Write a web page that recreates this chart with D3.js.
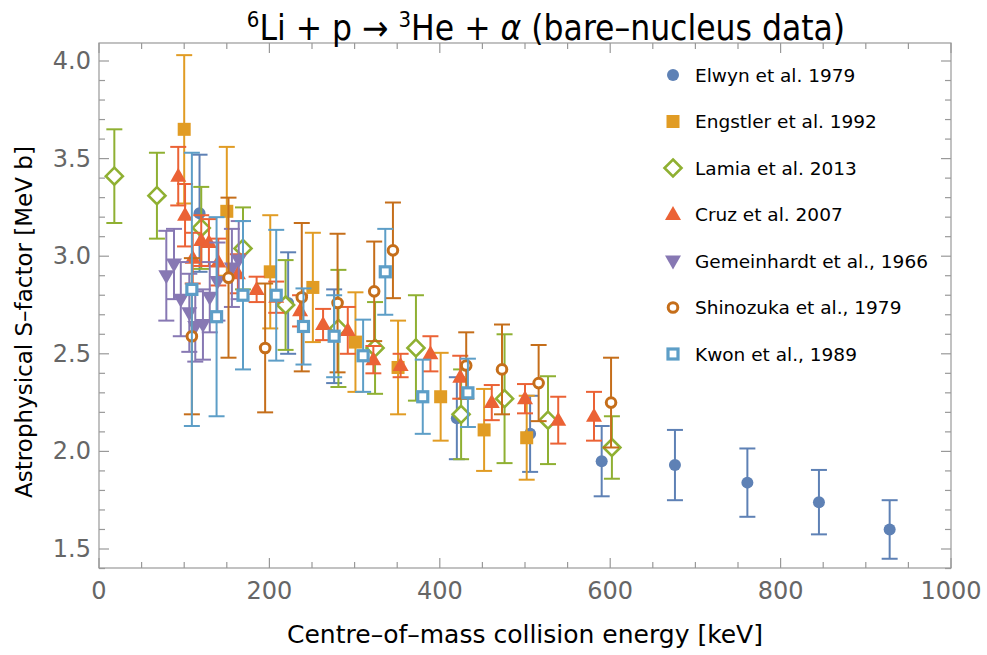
<!DOCTYPE html>
<html lang="en">
<head>
<meta charset="UTF-8">
<title>6Li + p -> 3He + alpha</title>
<script src="https://d3js.org/d3.v7.min.js"></script>
<style>
    body { margin: 0; background: #fff; }
    svg { display: block; font-family: "DejaVu Sans", sans-serif; }
    .tick-label { fill: #666; font-size: 24px; }
    .frame { fill: none; stroke: #999; stroke-width: 1.2px; }
    .tick { stroke: #999; stroke-width: 1.2px; }
</style>
</head>
<body>
<svg id="chart" width="987" height="655"></svg>
<script>
    // data: energy [keV], S-factor [MeV b], error
    const elwynE = [118, 222, 276, 420, 506, 590, 676, 761, 845, 928];
    const elwynS = [3.22, 2.76, 2.59, 2.17, 2.09, 1.95, 1.93, 1.84, 1.74, 1.60];
    const elwynErr = [0.30, 0.26, 0.24, 0.21, 0.195, 0.18, 0.18, 0.175, 0.165, 0.15];

    const engstlerE = [100, 150, 201, 251, 301, 351, 401, 452, 502];
    const engstlerS = [3.65, 3.23, 2.92, 2.84, 2.56, 2.43, 2.28, 2.11, 2.07];
    const engstlerErr = [0.38, 0.33, 0.29, 0.28, 0.255, 0.24, 0.225, 0.21, 0.215];

    const lamiaE = [18, 68, 120, 169, 219, 281, 324, 372, 425, 476, 527, 602];
    const lamiaS = [3.41, 3.31, 3.145, 3.04, 2.75, 2.63, 2.53, 2.53, 2.19, 2.27, 2.16, 2.02];
    const lamiaErr = [0.24, 0.22, 0.21, 0.21, 0.23, 0.30, 0.235, 0.27, 0.23, 0.33, 0.225, 0.16];

    const cruzE = [93, 101, 110, 120, 129, 140, 163, 185, 208, 236, 263, 292, 322, 354, 389, 424, 461, 500, 539, 581];
    const cruzS = [3.41, 3.21, 2.99, 3.08, 3.07, 2.97, 2.91, 2.83, 2.79, 2.72, 2.65, 2.62, 2.47, 2.44, 2.50, 2.38, 2.25, 2.27, 2.16, 2.18];
    const cruzErr = [0.15, 0.16, 0.13, 0.13, 0.12, 0.12, 0.10, 0.065, 0.08, 0.08, 0.08, 0.12, 0.07, 0.06, 0.09, 0.11, 0.09, 0.075, 0.12, 0.125];

    const gemE = [79, 88, 96, 106, 113, 122, 130, 139, 156, 164];
    const gemS = [2.90, 2.96, 2.78, 2.71, 2.64, 2.65, 2.79, 2.87, 2.94, 2.98];
    const gemErr = [0.23, 0.18, 0.19, 0.20, 0.18, 0.18, 0.18, 0.20, 0.20, 0.20];

    const shinE = [109, 152, 195, 238, 280, 323, 345, 431, 473, 516, 601];
    const shinS = [2.59, 2.89, 2.53, 2.79, 2.76, 2.82, 3.03, 2.44, 2.42, 2.35, 2.25];
    const shinErr = [0.40, 0.41, 0.33, 0.38, 0.355, 0.255, 0.245, 0.17, 0.23, 0.195, 0.23];

    const kwonE = [109, 138, 169, 208, 240, 276, 310, 336, 380, 433];
    const kwonS = [2.83, 2.69, 2.80, 2.80, 2.64, 2.59, 2.49, 2.92, 2.28, 2.30];
    const kwonErr = [0.70, 0.51, 0.38, 0.335, 0.195, 0.21, 0.185, 0.22, 0.19, 0.175];

    const xTicks = [0, 200, 400, 600, 800, 1000];
    const yTicks = [1.5, 2.0, 2.5, 3.0, 3.5, 4.0];

    const series = [
        {name: "Elwyn et al. 1979", e: elwynE, s: elwynS, err: elwynErr, color: "#5E81B5", shape: "circle"},
        {name: "Engstler et al. 1992", e: engstlerE, s: engstlerS, err: engstlerErr, color: "#E19C24", shape: "square"},
        {name: "Lamia et al. 2013", e: lamiaE, s: lamiaS, err: lamiaErr, color: "#8FB032", shape: "diamond"},
        {name: "Cruz et al. 2007", e: cruzE, s: cruzS, err: cruzErr, color: "#EB6235", shape: "up"},
        {name: "Gemeinhardt et al., 1966", e: gemE, s: gemS, err: gemErr, color: "#8778B3", shape: "down"},
        {name: "Shinozuka et al., 1979", e: shinE, s: shinS, err: shinErr, color: "#C56E1A", shape: "ring"},
        {name: "Kwon et al., 1989", e: kwonE, s: kwonS, err: kwonErr, color: "#5D9EC7", shape: "opensquare"}
    ];

    const svg = d3.select("#chart");
    const plotLeft = 99, plotRight = 951, plotTop = 43, plotBottom = 568;

    const x = d3.scaleLinear().domain([0, 1000]).range([plotLeft, plotRight]);
    const y = d3.scaleLinear().domain([1.5, 4.0]).range([549, 61]);

    // frame
    svg.append("rect").attr("class", "frame")
        .attr("x", plotLeft).attr("y", plotTop)
        .attr("width", plotRight - plotLeft).attr("height", plotBottom - plotTop);

    // ticks on all four sides
    d3.range(0, 1001, 50).forEach(v => {
        const len = v % 200 === 0 ? 10 : 6;
        svg.append("line").attr("class", "tick")
            .attr("x1", x(v)).attr("x2", x(v)).attr("y1", plotBottom).attr("y2", plotBottom - len);
        svg.append("line").attr("class", "tick")
            .attr("x1", x(v)).attr("x2", x(v)).attr("y1", plotTop).attr("y2", plotTop + len);
    });
    d3.range(14, 41).map(d => d / 10).forEach(v => {
        const len = Math.round(v * 10) % 5 === 0 ? 10 : 6;
        svg.append("line").attr("class", "tick")
            .attr("x1", plotLeft).attr("x2", plotLeft + len).attr("y1", y(v)).attr("y2", y(v));
        svg.append("line").attr("class", "tick")
            .attr("x1", plotRight).attr("x2", plotRight - len).attr("y1", y(v)).attr("y2", y(v));
    });

    svg.selectAll(".xlab").data(xTicks).enter().append("text")
        .attr("class", "tick-label")
        .attr("x", d => x(d)).attr("y", 599)
        .attr("text-anchor", "middle")
        .text(d => d);
    svg.selectAll(".ylab").data(yTicks).enter().append("text")
        .attr("class", "tick-label")
        .attr("x", 91).attr("y", d => y(d) + 8)
        .attr("text-anchor", "end")
        .text(d => d.toFixed(1));

    // axis titles
    svg.append("text")
        .attr("x", x(500)).attr("y", 643)
        .attr("text-anchor", "middle")
        .style("font-size", "25px")
        .text("Centre\u2013of\u2013mass collision energy [keV]");
    svg.append("text")
        .attr("transform", "translate(32,322) rotate(-90)")
        .attr("text-anchor", "middle")
        .style("font-size", "23px")
        .text("Astrophysical S\u2013factor [MeV b]");

    // title with superscripts
    const title = svg.append("text")
        .attr("x", 546).attr("y", 40)
        .attr("text-anchor", "middle")
        .style("font-family", "'DejaVu Sans Condensed', 'DejaVu Sans', sans-serif")
        .style("font-size", "35px");
    title.append("tspan").attr("dy", -13).style("font-size", "22px").text("6");
    title.append("tspan").attr("dy", 13).text("Li + p \u2192 ");
    title.append("tspan").attr("dy", -13).style("font-size", "22px").text("3");
    title.append("tspan").attr("dy", 13).text("He + ");
    title.append("tspan").style("font-style", "italic").text("\u03b1");
    title.append("tspan").text(" (bare\u2013nucleus data)");

    function drawMarker(g, shape, color, cx, cy) {
        if (shape === "circle") {
            g.append("circle").attr("cx", cx).attr("cy", cy).attr("r", 6).attr("fill", color);
        } else if (shape === "square") {
            g.append("rect").attr("x", cx - 6.5).attr("y", cy - 6.5).attr("width", 13).attr("height", 13).attr("fill", color);
        } else if (shape === "diamond") {
            g.append("path").attr("d", `M${cx},${cy - 8.5}L${cx + 8.5},${cy}L${cx},${cy + 8.5}L${cx - 8.5},${cy}Z`)
                .attr("fill", "#fff").attr("stroke", color).attr("stroke-width", 2.6);
        } else if (shape === "up") {
            g.append("path").attr("d", `M${cx},${cy - 8.5}L${cx + 8},${cy + 5.5}L${cx - 8},${cy + 5.5}Z`).attr("fill", color);
        } else if (shape === "down") {
            g.append("path").attr("d", `M${cx},${cy + 8.5}L${cx + 8},${cy - 5.5}L${cx - 8},${cy - 5.5}Z`).attr("fill", color);
        } else if (shape === "ring") {
            g.append("circle").attr("cx", cx).attr("cy", cy).attr("r", 4.8)
                .attr("fill", "#fff").attr("stroke", color).attr("stroke-width", 3);
        } else if (shape === "opensquare") {
            g.append("rect").attr("x", cx - 5).attr("y", cy - 5).attr("width", 10).attr("height", 10)
                .attr("fill", "#fff").attr("stroke", color).attr("stroke-width", 3.2);
        }
    }

    const plot = svg.append("g");
    series.forEach(sr => {
        const g = plot.append("g");
        sr.e.forEach((e, i) => {
            const cx = x(e), lo = y(sr.s[i] - sr.err[i]), hi = y(sr.s[i] + sr.err[i]);
            g.append("line").attr("x1", cx).attr("x2", cx).attr("y1", lo).attr("y2", hi)
                .attr("stroke", sr.color).attr("stroke-width", 2);
            [lo, hi].forEach(yy => g.append("line")
                .attr("x1", cx - 8).attr("x2", cx + 8).attr("y1", yy).attr("y2", yy)
                .attr("stroke", sr.color).attr("stroke-width", 2));
        });
        sr.e.forEach((e, i) => drawMarker(g, sr.shape, sr.color, x(e), y(sr.s[i])));
    });

    // legend
    const legend = svg.append("g");
    series.forEach((sr, i) => {
        const ly = 75 + i * 46.5;
        drawMarker(legend, sr.shape, sr.color, 673, ly);
        legend.append("text").attr("x", 695).attr("y", ly + 6.5)
            .style("font-size", "18.5px").text(sr.name);
    });
</script>
</body>
</html>
